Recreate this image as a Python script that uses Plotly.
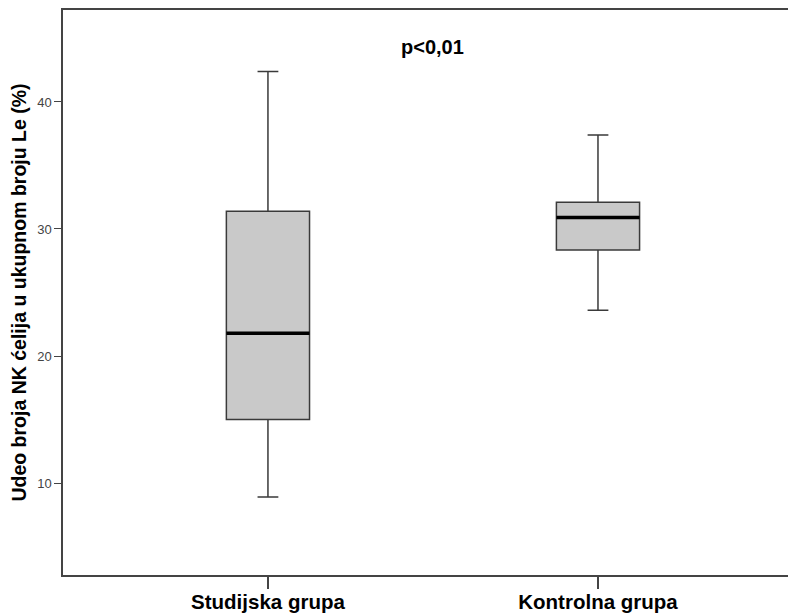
import plotly.graph_objects as go

categories = ["Studijska grupa", "Kontrolna grupa"]
lower_whisker = [8.9, 23.6]
q1_values = [15.0, 28.35]
median_values = [21.8, 30.9]
q3_values = [31.4, 32.1]
upper_whisker = [42.4, 37.4]
y_ticks = [10, 20, 30, 40]
y_title = "Udeo broja NK ćelija u ukupnom broju Le (%)"
p_text = "p<0,01"

positions = list(range(len(categories)))
box_w = 0.252
FONT = "Liberation Sans, Arial, sans-serif"

fig = go.Figure()
fig.add_trace(go.Box(
    x=positions,
    q1=q1_values, median=median_values, q3=q3_values,
    lowerfence=lower_whisker, upperfence=upper_whisker,
    width=box_w, whiskerwidth=0.25,
    fillcolor="#c9c9c9",
    line=dict(color="#3a3a3a", width=1.5),
    boxpoints=False, showlegend=False, hoverinfo="skip",
))
# thick median lines
for p, m in zip(positions, median_values):
    fig.add_trace(go.Scatter(
        x=[p - box_w / 2, p + box_w / 2], y=[m, m], mode="lines",
        line=dict(color="black", width=3.5), showlegend=False, hoverinfo="skip",
    ))

fig.add_annotation(
    x=0.5, y=0.9345, xref="x", yref="paper", xanchor="center", yanchor="middle",
    text="<b>" + p_text + "</b>", showarrow=False,
    font=dict(family=FONT, size=20, color="black"),
)

# page body has an 8px default margin, so the figure is sized/offset to compensate
fig.update_layout(
    width=788, height=607,
    margin=dict(l=55, r=0, t=2, b=40, autoexpand=False),
    paper_bgcolor="white", plot_bgcolor="white",
    font=dict(family=FONT),
    xaxis=dict(
        range=[-0.621, 1.6], tickvals=positions,
        ticktext=["<b>" + c + "</b>" for c in categories],
        tickfont=dict(family=FONT, size=20.5, color="black"),
        showline=True, linecolor="#444", linewidth=1.5, mirror=True,
        ticks="outside", ticklen=12, tickwidth=1.5, tickcolor="#444",
        ticklabelstandoff=-4,
        showgrid=False, zeroline=False, automargin=False,
    ),
    yaxis=dict(
        range=[2.76, 47.24], tickvals=y_ticks,
        tickfont=dict(family=FONT, size=13, color="#444"),
        showline=True, linecolor="#444", linewidth=1.5,
        ticks="outside", ticklen=7, tickwidth=1.2, tickcolor="#444",
        showgrid=False, zeroline=False, automargin=False,
        title=dict(text="<b>" + y_title + "</b>",
                   font=dict(family=FONT, size=19.5, color="black"), standoff=7),
    ),
)

fig.write_html("out.html")
